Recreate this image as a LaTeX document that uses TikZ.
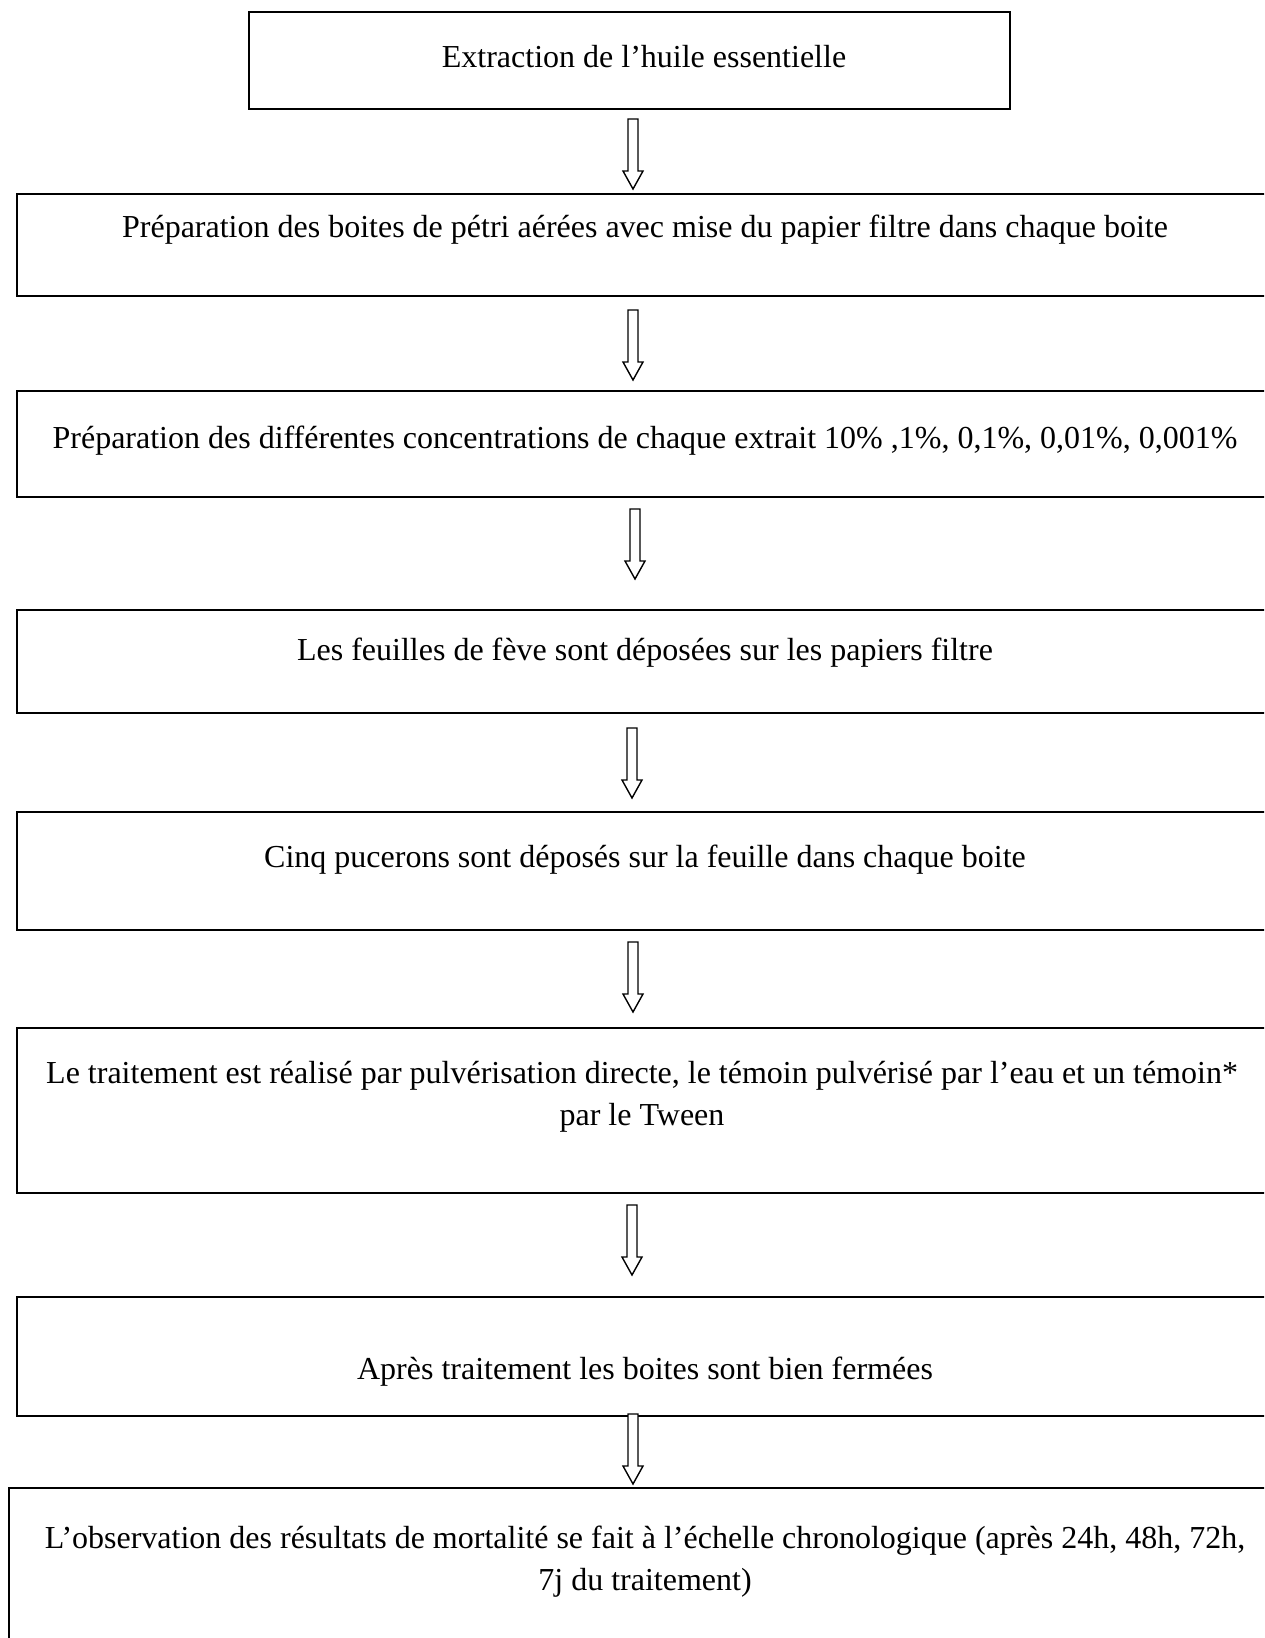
\documentclass[tikz,border=0pt]{standalone}
\usepackage{fontspec}
\setmainfont{Liberation Serif}

\tikzset{
  stepbox/.style={draw, line width=0.8pt, inner sep=0pt},
  steptext/.style={font=\fontsize{16}{21}\selectfont, align=center, inner sep=0pt, anchor=base},
  arrowline/.style={draw, line width=0.7pt, fill=white},
  downarrow/.pic={\draw[arrowline] (-5,0) -- (5,0) -- (5,52) -- (10,52) -- (0,70) -- (-10,52) -- (-5,52) -- cycle;}
}

\begin{document}
\begin{tikzpicture}[x=0.5pt, y=-0.5pt]
\clip (0,0) rectangle (1264,1638);

\node[stepbox, minimum width=380.5pt, minimum height=48.5pt] (b1) at (629.5,60.5) {};
\node[steptext] (t1) at (644,67) {Extraction de l’huile essentielle};

\node[stepbox, minimum width=631.5pt, minimum height=51pt] (b2) at (648.5,245) {};
\node[steptext] (t2) at (645,237) {Préparation des boites de pétri aérées avec mise du papier filtre dans chaque boite};

\node[stepbox, minimum width=631.5pt, minimum height=53pt] (b3) at (648.5,444) {};
\node[steptext] (t3) at (645,448) {Préparation des différentes concentrations de chaque extrait 10\% ,1\%, 0,1\%, 0,01\%, 0,001\%};

\node[stepbox, minimum width=631.5pt, minimum height=51.5pt] (b4) at (648.5,661.5) {};
\node[steptext] (t4) at (645,660) {Les feuilles de fève sont déposées sur les papiers filtre};

\node[stepbox, minimum width=631.5pt, minimum height=59pt] (b5) at (648.5,871) {};
\node[steptext] (t5) at (645,867) {Cinq pucerons sont déposés sur la feuille dans chaque boite};

\node[stepbox, minimum width=631.5pt, minimum height=82.5pt] (b6) at (648.5,1110.5) {};
\node[steptext] (t6) at (642,1125) {Le traitement est réalisé par pulvérisation directe, le témoin pulvérisé par l’eau et un témoin*\\ par le Tween};

\node[stepbox, minimum width=631.5pt, minimum height=59.5pt] (b7) at (648.5,1356.5) {};
\node[steptext] (t7) at (645,1379) {Après traitement les boites sont bien fermées};

\node[stepbox, minimum width=635.5pt, minimum height=106pt] (b8) at (644.5,1594) {};
\node[steptext] (t8) at (645,1590) {L’observation des résultats de mortalité se fait à l’échelle chronologique (après 24h, 48h, 72h,\\ 7j du traitement)};

% fleches entre les etapes
\pic (a1) at (633,119) {downarrow};
\pic (a2) at (633,310) {downarrow};
\pic (a3) at (635,509) {downarrow};
\pic (a4) at (632,728) {downarrow};
\pic (a5) at (633,942) {downarrow};
\pic (a6) at (632,1205) {downarrow};
\pic (a7) at (633,1414) {downarrow};
\end{tikzpicture}
\end{document}
